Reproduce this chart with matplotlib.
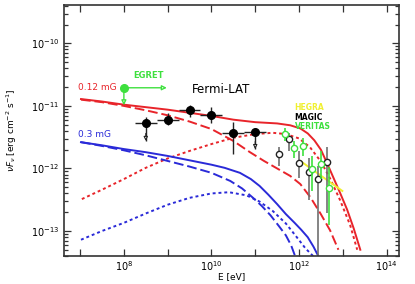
import numpy as np
import matplotlib.pyplot as plt

# model curves: log10(E [eV]) and log10(nuF_nu [erg cm-2 s-1])
red_tot_logE = [7.02, 7.5, 8.0, 8.5, 9.0, 9.5, 10.0, 10.5, 11.0, 11.5, 11.8, 12.03, 12.2, 12.35,
                12.5, 12.65, 12.8, 12.95, 13.1, 13.25, 13.4]
red_tot_logF = [-10.89, -10.93, -10.98, -11.02, -11.06, -11.11, -11.16, -11.22, -11.26, -11.28, -11.31,
                -11.36, -11.44, -11.55, -11.70, -11.93, -12.17, -12.41, -12.66, -12.96, -13.3]

red_sync_logE = [7.02, 7.5, 8.0, 8.5, 9.0, 9.5, 10.0, 10.5, 10.88, 11.2, 11.5, 11.8, 12.03, 12.26,
                 12.49, 12.71, 12.9]
red_sync_logF = [-10.90, -10.94, -11.0, -11.07, -11.15, -11.25, -11.37, -11.56, -11.74, -11.88, -12.0,
                 -12.12, -12.25, -12.46, -12.72, -12.99, -13.3]

red_ic_logE = [7.04, 7.5, 8.0, 8.5, 9.0, 9.5, 10.0, 10.5, 11.0, 11.4, 11.7, 12.0, 12.25, 12.5, 12.71,
               12.94, 13.17, 13.33]
red_ic_logF = [-12.49, -12.34, -12.17, -11.99, -11.84, -11.72, -11.61, -11.51, -11.45, -11.43, -11.45,
               -11.52, -11.66, -11.89, -12.16, -12.51, -12.91, -13.3]

blue_tot_logE = [7.02, 7.5, 8.0, 8.5, 9.0, 9.5, 10.0, 10.3, 10.65, 10.9, 11.1, 11.3, 11.5, 11.7, 11.9,
                 12.05, 12.2, 12.33, 12.44]
blue_tot_logF = [-11.58, -11.63, -11.69, -11.74, -11.80, -11.87, -11.94, -11.99, -12.07, -12.17, -12.28,
                 -12.42, -12.57, -12.73, -12.87, -12.98, -13.1, -13.25, -13.40]

blue_sync_logE = [7.02, 7.5, 8.0, 8.5, 9.0, 9.5, 10.0, 10.43, 10.7, 10.95, 11.15, 11.35, 11.55, 11.7,
                  11.82, 11.91]
blue_sync_logF = [-11.58, -11.64, -11.71, -11.79, -11.88, -11.97, -12.07, -12.2, -12.32, -12.47, -12.6,
                  -12.75, -12.93, -13.07, -13.23, -13.4]

blue_ic_logE = [7.02, 7.5, 8.0, 8.5, 9.0, 9.5, 10.0, 10.4, 10.8, 11.1, 11.4, 11.7, 11.95, 12.15, 12.35]
blue_ic_logF = [-13.14, -13.0, -12.87, -12.72, -12.58, -12.47, -12.40, -12.38, -12.43, -12.53, -12.68,
                -12.88, -13.1, -13.28, -13.42]

# Fermi-LAT points
fermi_logE = [8.5, 9.0, 9.5, 10.0, 10.5, 11.0]
fermi_logF = [-11.27, -11.22, -11.07, -11.14, -11.44, -11.42]
fermi_hi = [-11.17, -11.12, -10.98, -11.01, -11.25, -11.42]
fermi_lo = [-11.56, -11.31, -11.17, -11.27, -11.77, -11.69]
fermi_ul = [True, False, False, False, False, True]

# EGRET upper limit
egret_logE = 8.0
egret_logF = -10.71

# MAGIC
magic_logE = [11.55, 11.78, 12.0, 12.23, 12.44, 12.65]
magic_logF = [-11.77, -11.53, -11.91, -12.06, -12.17, -11.90]
magic_hi = [-11.65, -11.44, -11.72, -11.84, -11.96, -11.65]
magic_lo = [-11.96, -11.72, -12.15, -12.51, -14.0, -12.72]

# VERITAS
veritas_logE = [11.68, 11.89, 12.1, 12.3, 12.51, 12.69]
veritas_logF = [-11.45, -11.68, -11.64, -12.01, -11.93, -12.31]
veritas_hi = [-11.36, -11.56, -11.52, -11.80, -11.72, -11.97]
veritas_lo = [-11.56, -11.83, -11.80, -12.36, -12.17, -12.90]

# HEGRA power law
hegra_logE = [12.03, 12.99]
hegra_logF = [-11.88, -12.36]

RED = '#e8242a'
BLUE = '#2a2ad8'
GREEN = '#3ee03e'
YELLOW = '#f0f030'


def p(v):
    return 10 ** np.asarray(v, dtype=float)


fig = plt.figure(figsize=(4.15, 2.84), dpi=100)
ax = fig.add_axes([0.154, 0.0986, 0.807, 0.883])

# model curves
ax.plot(p(red_tot_logE), p(red_tot_logF), color=RED, lw=1.4)
ax.plot(p(red_sync_logE), p(red_sync_logF), color=RED, lw=1.4, dashes=(5, 2))
ax.plot(p(red_ic_logE), p(red_ic_logF), color=RED, lw=1.4, dashes=(1.5, 1.5))
ax.plot(p(blue_tot_logE), p(blue_tot_logF), color=BLUE, lw=1.4)
ax.plot(p(blue_sync_logE), p(blue_sync_logF), color=BLUE, lw=1.4, dashes=(5, 2))
ax.plot(p(blue_ic_logE), p(blue_ic_logF), color=BLUE, lw=1.4, dashes=(1.5, 1.5))

# HEGRA
ax.plot(p(hegra_logE), p(hegra_logF), color=YELLOW, lw=1.4)

# MAGIC
E = p(magic_logE)
F = p(magic_logF)
ax.vlines(E, p(magic_lo), p(magic_hi), color='#707070', lw=1.2)
ax.plot(E, F, 'o', ms=4.5, mfc='white', mec='#222222', mew=1.0)

# VERITAS
E = p(veritas_logE)
F = p(veritas_logF)
ax.vlines(E, p(veritas_lo), p(veritas_hi), color=GREEN, lw=1.2)
ax.plot(E, F, 'o', ms=4.5, mfc='white', mec=GREEN, mew=1.0)

# Fermi-LAT
E = p(fermi_logE)
F = p(fermi_logF)
ax.hlines(F, p(np.array(fermi_logE) - 0.25), p(np.array(fermi_logE) + 0.25), color='#222222', lw=1.0)
for e, f, hi, lo, ul in zip(fermi_logE, fermi_logF, fermi_hi, fermi_lo, fermi_ul):
    ax.vlines(10 ** e, 10 ** lo, 10 ** hi, color='#222222', lw=1.0)
    if ul:
        ax.annotate('', xy=(10 ** e, 10 ** lo), xytext=(10 ** e, 10 ** (lo + 0.12)),
                    arrowprops=dict(arrowstyle='-|>', color='#222222', fc='white',
                                    lw=0.8, mutation_scale=6, shrinkA=0, shrinkB=0))
ax.plot(E, F, 'o', ms=5.5, color='black')

# EGRET
ax.annotate('', xy=(10 ** (egret_logE + 0.98), 10 ** egret_logF), xytext=(10 ** egret_logE, 10 ** egret_logF),
            arrowprops=dict(arrowstyle='-|>', color=GREEN, fc='white', lw=1.0,
                            mutation_scale=7, shrinkA=0, shrinkB=0))
ax.annotate('', xy=(10 ** egret_logE, 10 ** (egret_logF - 0.28)), xytext=(10 ** egret_logE, 10 ** egret_logF),
            arrowprops=dict(arrowstyle='-|>', color=GREEN, fc='white', lw=1.0,
                            mutation_scale=7, shrinkA=0, shrinkB=0))
ax.plot([10 ** egret_logE], [10 ** egret_logF], 'o', ms=5.5, color=GREEN)

# texts
ax.text(10 ** 8.22, 10 ** -10.52, 'EGRET', color=GREEN, fontsize=6, fontweight='bold', va='center')
ax.text(10 ** 6.95, 10 ** -10.71, '0.12 mG', color=RED, fontsize=6.5, va='center')
ax.text(10 ** 6.95, 10 ** -11.46, '0.3 mG', color=BLUE, fontsize=6.5, va='center')
ax.text(10 ** 9.55, 10 ** -10.73, 'Fermi-LAT', color='black', fontsize=8.5, va='center')
ax.text(10 ** 11.9, 10 ** -11.02, 'HEGRA', color=YELLOW, fontsize=5.5, fontweight='bold', va='center')
ax.text(10 ** 11.9, 10 ** -11.18, 'MAGIC', color='black', fontsize=5.5, fontweight='bold', va='center')
ax.text(10 ** 11.9, 10 ** -11.33, 'VERITAS', color=GREEN, fontsize=5.5, fontweight='bold', va='center')

# axes
ax.set_xscale('log')
ax.set_yscale('log')
ax.set_xlim(10 ** 6.63, 10 ** 14.28)
ax.set_ylim(10 ** -13.4, 10 ** -9.39)

ax.set_xticks(p(range(7, 15)))
ax.set_xticklabels(['', r'$10^{8}$', '', r'$10^{10}$', '', r'$10^{12}$', '', r'$10^{14}$'])
ax.xaxis.set_minor_locator(plt.NullLocator())
ax.set_yticks(p([-13, -12, -11, -10]))
ax.set_yticklabels([r'$10^{-13}$', r'$10^{-12}$', r'$10^{-11}$', r'$10^{-10}$'])
ax.yaxis.set_minor_locator(plt.LogLocator(base=10, subs=np.arange(2, 10)))
ax.yaxis.set_minor_formatter(plt.NullFormatter())

ax.tick_params(which='both', direction='in', top=True, right=True, labelsize=7, width=0.9, color='#333333')
ax.tick_params(which='major', length=5)
ax.tick_params(which='minor', length=3)
ax.tick_params(axis='x', pad=2)
for s in ax.spines.values():
    s.set_linewidth(1.2)
    s.set_color('#333333')

ax.set_xlabel('E [eV]', fontsize=6.5, labelpad=0)
ax.set_ylabel(r'$\nu F_\nu$ [erg cm$^{-2}$ s$^{-1}$]', fontsize=6.5, labelpad=8)

plt.savefig('out.png', dpi=100)
